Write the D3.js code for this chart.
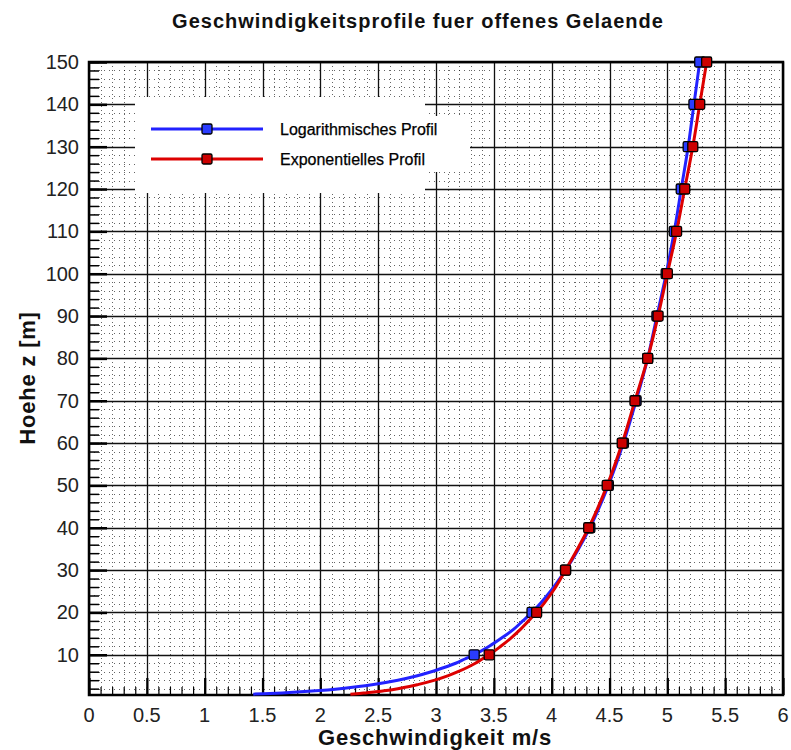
<!DOCTYPE html>
<html>
<head>
<meta charset="utf-8">
<script src="https://cdn.jsdelivr.net/npm/d3@7"></script>
<style>
  html, body { margin: 0; padding: 0; background: #fff; }
  svg { display: block; }
  text { font-family: "Liberation Sans", Arial, sans-serif; }
</style>
</head>
<body>
<svg id="chart" width="791" height="750"></svg>
<script>
// ---- data ----
const titleText = "Geschwindigkeitsprofile fuer offenes Gelaende";
const xTitle = "Geschwindigkeit m/s";
const yTitle = "Hoehe z [m]";
const seriesNames = ["Logarithmisches Profil", "Exponentielles Profil"];

const xTickValues = [0, 0.5, 1, 1.5, 2, 2.5, 3, 3.5, 4, 4.5, 5, 5.5, 6];
const xTickLabels = ["0", "0.5", "1", "1.5", "2", "2.5", "3", "3.5", "4", "4.5", "5", "5.5", "6"];
const yTickValues = [10, 20, 30, 40, 50, 60, 70, 80, 90, 100, 110, 120, 130, 140, 150];
const yTickLabels = ["10", "20", "30", "40", "50", "60", "70", "80", "90", "100", "110", "120", "130", "140", "150"];

// heights of the markers
const markerHeights = [10, 20, 30, 40, 50, 60, 70, 80, 90, 100, 110, 120, 130, 140, 150];
const logMarkers = [3.33, 3.83, 4.12, 4.33, 4.49, 4.62, 4.73, 4.83, 4.91, 4.99, 5.06, 5.12, 5.18, 5.23, 5.28];
const expMarkers = [3.46, 3.87, 4.12, 4.32, 4.48, 4.61, 4.72, 4.83, 4.92, 5.00, 5.08, 5.15, 5.22, 5.28, 5.34];

// heights of the curve points
const curveHeights = [0.7, 0.8, 1, 1.25, 1.5, 2, 2.5, 3, 4, 5, 6, 7, 8, 9, 10, 12, 14, 16, 18, 20, 25, 30,
                      40, 50, 60, 70, 80, 90, 100, 110, 120, 130, 140, 150];
const logCurve = [1.42, 1.51, 1.67, 1.83, 1.96, 2.17, 2.33, 2.46, 2.67, 2.83, 2.96, 3.07, 3.17, 3.25, 3.33,
                  3.46, 3.57, 3.67, 3.75, 3.83, 3.99, 4.12,
                  4.33, 4.49, 4.62, 4.73, 4.83, 4.91, 4.99, 5.06, 5.12, 5.18, 5.23, 5.28];
const expCurve = [2.26, 2.31, 2.39, 2.48, 2.55, 2.67, 2.77, 2.85, 2.99, 3.10, 3.19, 3.27, 3.34, 3.40, 3.46,
                  3.56, 3.65, 3.73, 3.80, 3.87, 4.01, 4.12,
                  4.32, 4.48, 4.61, 4.72, 4.83, 4.92, 5.00, 5.08, 5.15, 5.22, 5.28, 5.34];

const xDomain = [0, 6];
const yDomain = [0.5, 150];

// ---- drawing ----
const svg = d3.select("#chart");
const L = 89, R = 783, T = 62, B = 695;
const x = d3.scaleLinear().domain(xDomain).range([L, R]);
const y = d3.scaleLinear().domain(yDomain).range([B, T]);

const colors = ["#2222ff", "#dd0000"];
const markFill = ["#2a3cff", "#cc0000"];

// minor grid (dotted)
const xMinor = d3.range(0, 6.0001, 0.1).filter(v => Math.abs(v * 2 - Math.round(v * 2)) > 1e-6);
const yMinor = d3.range(2, 150, 2).filter(v => v % 10 !== 0);
const grid = svg.append("g");
grid.selectAll(".vx").data(xMinor).join("line")
  .attr("x1", d => Math.round(x(d)) + 0.5).attr("x2", d => Math.round(x(d)) + 0.5).attr("y1", T).attr("y2", B)
  .attr("stroke", "#000").attr("stroke-width", 1).attr("stroke-dasharray", "1,3").attr("opacity", 0.6);
grid.selectAll(".hy").data(yMinor).join("line")
  .attr("x1", L).attr("x2", R).attr("y1", d => Math.round(y(d)) + 0.5).attr("y2", d => Math.round(y(d)) + 0.5)
  .attr("stroke", "#000").attr("stroke-width", 1).attr("stroke-dasharray", "1,4").attr("opacity", 0.6);

// major grid
grid.selectAll(".mx").data(xTickValues).join("line")
  .attr("x1", d => Math.round(x(d)) + 0.5).attr("x2", d => Math.round(x(d)) + 0.5).attr("y1", T).attr("y2", B)
  .attr("stroke", "#111").attr("stroke-width", 1.3);
grid.selectAll(".my").data(yTickValues).join("line")
  .attr("x1", L).attr("x2", R).attr("y1", d => Math.round(y(d)) + 0.5).attr("y2", d => Math.round(y(d)) + 0.5)
  .attr("stroke", "#111").attr("stroke-width", 1.3);

// legend background (covers grid)
svg.append("rect").attr("x", 135).attr("y", 97).attr("width", 290).attr("height", 96).attr("fill", "#fff");
svg.append("rect").attr("x", 275).attr("y", 116).attr("width", 195).attr("height", 56).attr("fill", "#fff");

// ticks: bottom axis inward
const xMinorTicks = d3.range(0, 6.0001, 0.1);
const xAxis = d3.axisBottom(x).tickValues(xMinorTicks).tickSize(-8).tickFormat("");
svg.append("g").attr("transform", `translate(0,${B})`).call(xAxis)
  .call(g => g.select(".domain").remove())
  .call(g => g.selectAll("line").attr("stroke", "#000").attr("stroke-width", 1.2));
const xAxisMajor = d3.axisBottom(x).tickValues(xTickValues).tickSize(-17).tickFormat("");
svg.append("g").attr("transform", `translate(0,${B})`).call(xAxisMajor)
  .call(g => g.select(".domain").remove())
  .call(g => g.selectAll("line").attr("stroke", "#000").attr("stroke-width", 2.2));

// ticks: left axis inward
const yMinorTicks = d3.range(2, 150.001, 2);
const yAxis = d3.axisLeft(y).tickValues(yMinorTicks).tickSize(-10).tickFormat("");
svg.append("g").attr("transform", `translate(${L},0)`).call(yAxis)
  .call(g => g.select(".domain").remove())
  .call(g => g.selectAll("line").attr("stroke", "#000").attr("stroke-width", 1.5));
const yAxisMajor = d3.axisLeft(y).tickValues(yTickValues).tickSize(-18).tickFormat("");
svg.append("g").attr("transform", `translate(${L},0)`).call(yAxisMajor)
  .call(g => g.select(".domain").remove())
  .call(g => g.selectAll("line").attr("stroke", "#000").attr("stroke-width", 2.5));

// tick labels
svg.append("g").selectAll("text").data(xTickValues).join("text")
  .attr("x", d => x(d)).attr("y", 722)
  .attr("text-anchor", "middle").attr("font-size", 20).attr("fill", "#222")
  .text((d, i) => xTickLabels[i]);
svg.append("g").selectAll("text").data(yTickValues).join("text")
  .attr("x", 79).attr("y", d => y(d) + 7)
  .attr("text-anchor", "end").attr("font-size", 20).attr("fill", "#222")
  .text((d, i) => yTickLabels[i]);

// frame
svg.append("rect").attr("x", L).attr("y", T).attr("width", R - L).attr("height", B - T)
  .attr("fill", "none").attr("stroke", "#000").attr("stroke-width", 2.5);

// series
const line = d3.line().x(d => x(d[0])).y(d => y(d[1])).curve(d3.curveMonotoneY);
const curves = [logCurve, expCurve];
const markers = [logMarkers, expMarkers];
const ms = 10;
[0, 1].forEach(s => {
  const pts = curveHeights.map((h, i) => [curves[s][i], h]);
  svg.append("path").datum(pts).attr("d", line)
    .attr("fill", "none").attr("stroke", colors[s]).attr("stroke-width", 3);
  svg.append("g").selectAll("rect").data(markerHeights.map((h, i) => [markers[s][i], h])).join("rect")
    .attr("x", d => x(d[0]) - ms / 2).attr("y", d => y(d[1]) - ms / 2)
    .attr("width", ms).attr("height", ms).attr("rx", 1.5)
    .attr("fill", markFill[s]).attr("stroke", "#000").attr("stroke-width", 1.3);
});

// legend
const legY = [129, 159];
[0, 1].forEach(s => {
  svg.append("line").attr("x1", 151).attr("x2", 263).attr("y1", legY[s]).attr("y2", legY[s])
    .attr("stroke", colors[s]).attr("stroke-width", 3);
  svg.append("rect").attr("x", 207 - ms / 2).attr("y", legY[s] - ms / 2).attr("width", ms).attr("height", ms).attr("rx", 1.5)
    .attr("fill", markFill[s]).attr("stroke", "#000").attr("stroke-width", 1.3);
  svg.append("text").attr("x", 280).attr("y", legY[s] + 6).attr("font-size", 16).attr("fill", "#000")
    .attr("stroke", "#000").attr("stroke-width", 0.25)
    .text(seriesNames[s]);
});

// titles
svg.append("text").attr("x", 418).attr("y", 28).attr("text-anchor", "middle")
  .attr("font-size", 20).attr("font-weight", "bold").attr("letter-spacing", 1).attr("fill", "#111").text(titleText);
svg.append("text").attr("x", 435).attr("y", 745).attr("text-anchor", "middle")
  .attr("font-size", 22).attr("font-weight", "bold").attr("letter-spacing", 0.8).attr("fill", "#111").text(xTitle);
svg.append("text").attr("transform", "translate(35,378) rotate(-90)").attr("text-anchor", "middle")
  .attr("font-size", 22).attr("font-weight", "bold").attr("letter-spacing", 0.8).attr("fill", "#111").text(yTitle);
</script>
</body>
</html>
